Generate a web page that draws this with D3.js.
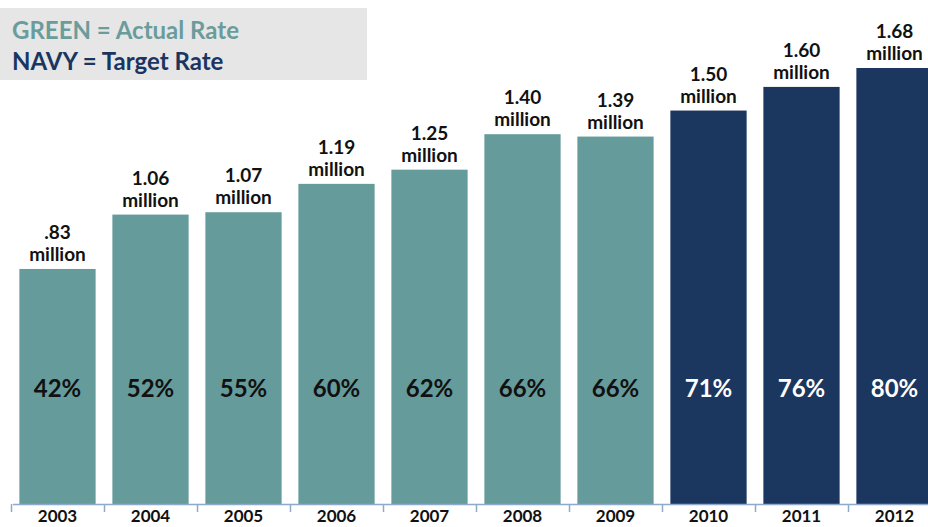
<!DOCTYPE html>
<html lang="en">
<head>
  <meta charset="UTF-8" />
  <title>Actual vs Target Rate</title>
  <script src="https://d3js.org/d3.v7.min.js"></script>
  <style>
    body { margin: 0; background: #fff; }
    svg text { font-family: Lato, 'Open Sans', sans-serif; font-weight: 700; }
  </style>
</head>
<body>
  <div id="chart"></div>
  <script>
    const years = ["2003", "2004", "2005", "2006", "2007", "2008", "2009", "2010", "2011", "2012"];
    const values = [0.83, 1.06, 1.07, 1.19, 1.25, 1.40, 1.39, 1.50, 1.60, 1.68];
    const valueLabels = [".83", "1.06", "1.07", "1.19", "1.25", "1.40", "1.39", "1.50", "1.60", "1.68"];
    const rates = ["42%", "52%", "55%", "60%", "62%", "66%", "66%", "71%", "76%", "80%"];
    const kinds = ["actual", "actual", "actual", "actual", "actual", "actual", "actual", "target", "target", "target"];

    const width = 928, height = 527;
    const baseY = 504;
    const green = "#669b9b", navy = "#1b365f";

    const svg = d3.select("#chart").append("svg")
      .attr("width", width)
      .attr("height", height);

    const x = d3.scaleBand()
      .domain(years)
      .range([11, 941])
      .paddingInner(0.18)
      .paddingOuter(0.09);

    // the original's bars don't start from zero, so the domain is offset
    const y = d3.scaleLinear()
      .domain([-0.164, 1.68])
      .range([baseY, 68]);

    const data = years.map((yr, i) => ({
      year: yr, value: values[i], label: valueLabels[i], rate: rates[i], kind: kinds[i]
    }));

    // bars
    svg.selectAll("rect.bar")
      .data(data)
      .join("rect")
      .attr("class", "bar")
      .attr("x", d => x(d.year))
      .attr("y", d => y(d.value))
      .attr("width", x.bandwidth())
      .attr("height", d => baseY - y(d.value))
      .attr("fill", d => d.kind === "actual" ? green : navy);

    // value labels above bars
    const lbl = svg.selectAll("g.vlabel")
      .data(data)
      .join("g")
      .attr("class", "vlabel")
      .attr("transform", d => `translate(${x(d.year) + x.bandwidth() / 2},${y(d.value)})`);

    lbl.append("text")
      .attr("text-anchor", "middle")
      .attr("y", -30)
      .attr("font-size", 19)
      .attr("fill", "#111")
      .text(d => d.label);

    lbl.append("text")
      .attr("text-anchor", "middle")
      .attr("y", -8)
      .attr("font-size", 19)
      .attr("fill", "#111")
      .text("million");

    // percentages inside bars
    svg.selectAll("text.rate")
      .data(data)
      .join("text")
      .attr("class", "rate")
      .attr("x", d => x(d.year) + x.bandwidth() / 2)
      .attr("y", 397)
      .attr("text-anchor", "middle")
      .attr("font-size", 24)
      .attr("fill", d => d.kind === "actual" ? "#111" : "#fff")
      .text(d => d.rate);

    // x axis
    const step = x.step();
    const ax = svg.append("g").attr("class", "x-axis");
    ax.append("line")
      .attr("x1", 13).attr("x2", width)
      .attr("y1", baseY + 0.5).attr("y2", baseY + 0.5)
      .attr("stroke", "#8ea9c9")
      .attr("stroke-width", 1.5);

    ax.selectAll("line.tick")
      .data(years)
      .join("line")
      .attr("class", "tick")
      .attr("x1", d => x(d) - x.paddingInner() * step / 2 + 0.5)
      .attr("x2", d => x(d) - x.paddingInner() * step / 2 + 0.5)
      .attr("y1", baseY)
      .attr("y2", baseY + 8)
      .attr("stroke", "#8ea9c9")
      .attr("stroke-width", 1.5);

    ax.selectAll("text")
      .data(years)
      .join("text")
      .attr("x", d => x(d) + x.bandwidth() / 2)
      .attr("y", 522)
      .attr("text-anchor", "middle")
      .attr("font-size", 17)
      .attr("fill", "#111")
      .text(d => d);

    // legend box
    const legend = svg.append("g");
    legend.append("rect")
      .attr("x", 0).attr("y", 8)
      .attr("width", 367).attr("height", 72)
      .attr("fill", "#e6e6e6");
    legend.append("text")
      .attr("x", 12).attr("y", 39)
      .attr("font-size", 24)
      .attr("fill", "#6a9c9c")
      .text("GREEN = Actual Rate");
    legend.append("text")
      .attr("x", 12).attr("y", 70)
      .attr("font-size", 24)
      .attr("fill", "#1b3560")
      .text("NAVY = Target Rate");
  </script>
</body>
</html>
